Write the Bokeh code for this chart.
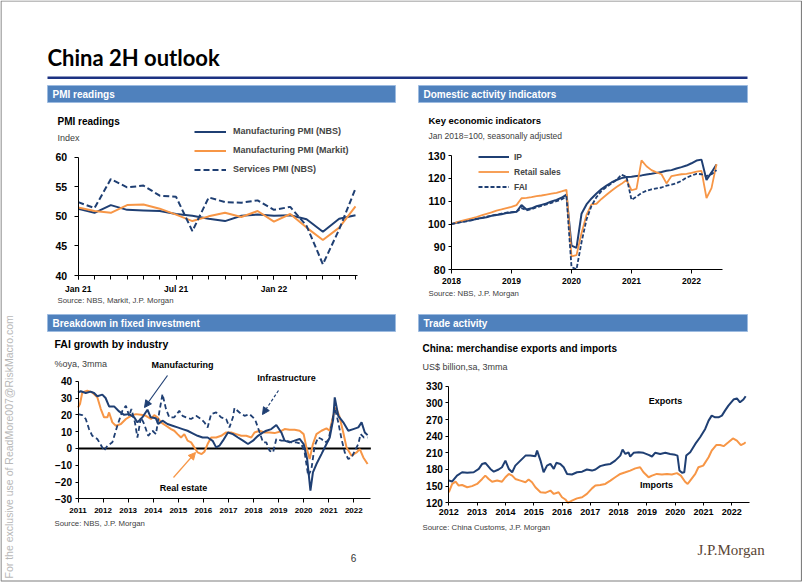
from bokeh.plotting import figure
from bokeh.models import (Range1d, LinearAxis, FixedTicker, Label, Legend, LegendItem,
                          Arrow, NormalHead)
from bokeh.embed import file_html
from bokeh.resources import INLINE

# ------------------------------------------------------------------ data
# Chart 1: PMI readings (monthly, Jan 21 - Jun 22)
pmi_months = ["Jan 21", "Feb 21", "Mar 21", "Apr 21", "May 21", "Jun 21", "Jul 21", "Aug 21",
              "Sep 21", "Oct 21", "Nov 21", "Dec 21", "Jan 22", "Feb 22", "Mar 22", "Apr 22",
              "May 22", "Jun 22"]
pmi_nbs_mfg = [51.3, 50.6, 51.9, 51.1, 51.0, 50.9, 50.4, 50.1, 49.6, 49.2, 50.1, 50.3,
               50.1, 50.2, 49.5, 47.4, 49.6, 50.2]
pmi_markit_mfg = [51.5, 50.9, 50.6, 51.9, 52.0, 51.3, 50.3, 49.2, 50.0, 50.6, 49.9, 50.9,
                  49.1, 50.4, 48.1, 46.0, 48.1, 51.7]
pmi_nbs_services = [52.4, 51.4, 56.3, 54.9, 55.2, 53.5, 53.3, 47.5, 53.2, 52.4, 52.3, 52.7,
                    51.1, 51.6, 48.4, 41.9, 47.8, 54.7]
pmi_tick_labels = {0: "Jan 21", 6: "Jul 21", 12: "Jan 22"}

# Chart 2: key economic indicators (monthly, Jan 2018 - Jun 2022, Jan 2018=100)
act_first_year = 2018
act_ip = [100.0, 100.6, 101.0, 101.4, 101.7, 102.3, 102.7, 103.0, 103.6, 104.0, 104.3, 104.8,
          105.1, 105.4, 108.3, 106.4, 106.9, 107.8, 108.4, 109.0, 109.9, 110.6, 111.5, 112.9,
          90.6, 89.6, 104.5, 108.6, 111.2, 113.4, 115.3, 116.8, 118.2, 119.3, 120.1, 120.6,
          120.7, 121.0, 121.3, 121.7, 122.0, 122.4, 122.8, 123.3, 123.6, 124.3, 124.9, 125.6,
          126.6, 127.8, 128.2, 119.3, 122.6, 126.1]
act_retail = [100.0, 100.7, 101.4, 102.0, 102.5, 103.1, 103.8, 104.5, 105.1, 105.9, 106.4, 107.0,
              107.5, 108.3, 111.3, 111.5, 111.8, 112.2, 112.5, 112.9, 113.3, 113.7, 114.3, 115.0,
              85.9, 86.4, 96.0, 104.0, 108.6, 108.9, 111.0, 112.8, 114.6, 116.2, 117.6, 119.3,
              114.8, 115.4, 127.9, 125.3, 123.6, 122.6, 121.8, 117.8, 121.0, 121.4, 121.8, 122.0,
              122.4, 122.9, 123.3, 111.4, 115.7, 126.2]
act_fai = [100.0, 100.5, 100.9, 101.2, 101.7, 102.2, 102.6, 103.2, 103.7, 104.1, 104.6, 105.0,
           105.2, 105.4, 107.0, 106.0, 106.5, 107.3, 108.0, 108.6, 109.3, 110.0, 110.8, 112.0,
           81.2, 80.2, 92.0, 102.0, 108.0, 111.8, 114.5, 116.2, 117.8, 119.2, 121.6, 120.7,
           110.6, 112.0, 113.6, 114.6, 115.2, 115.6, 116.0, 116.8, 117.3, 117.9, 118.9, 120.3,
           121.2, 122.0, 121.8, 121.0, 121.8, 123.6]
act_years = [2018, 2019, 2020, 2021, 2022]

# Chart 3: FAI growth by industry (%oya, 3mma), dates as decimal years
mfg_t = [2011.00, 2011.11, 2011.31, 2011.50, 2011.64, 2011.77, 2011.97, 2012.10, 2012.24, 2012.44,
         2012.64, 2012.84, 2013.04, 2013.24, 2013.37, 2013.57, 2013.77, 2013.90, 2014.10, 2014.20,
         2014.37, 2014.57, 2014.77, 2014.97, 2015.17, 2015.37, 2015.57, 2015.77, 2015.97, 2016.17,
         2016.37, 2016.51, 2016.64, 2016.78, 2016.98, 2017.18, 2017.38, 2017.58, 2017.78, 2017.98,
         2018.18, 2018.38, 2018.51, 2018.71, 2018.91, 2019.11, 2019.24, 2019.44, 2019.64, 2019.84,
         2020.00, 2020.14, 2020.27, 2020.37, 2020.51, 2020.71, 2020.91, 2021.04, 2021.18, 2021.24,
         2021.38, 2021.58, 2021.78, 2021.98, 2022.18, 2022.31, 2022.44, 2022.55]
mfg_v = [33.3, 34.0, 33.0, 33.8, 33.0, 31.0, 32.0, 30.0, 25.0, 25.0,
         22.0, 20.0, 20.4, 18.5, 15.5, 18.5, 23.0, 18.5, 18.0, 14.5,
         16.5, 14.5, 13.5, 12.5, 11.5, 10.5, 9.0, 7.5, 6.5, 6.5,
         4.5, 0.6, 1.6, 4.6, 9.5, 8.5, 6.5, 4.6, 2.6, 4.6,
         7.5, 9.5, 10.5, 11.5, 13.9, 9.5, 4.6, 3.6, 4.6, 5.6,
         2.6, -6.3, -25.2, -14.3, -9.3, -3.4, 2.6, 6.5, 17.5, 30.4,
         19.4, 15.5, 10.5, 11.5, 12.5, 15.5, 9.5, 7.9]
re_t = [2011.00, 2011.08, 2011.17, 2011.37, 2011.57, 2011.77, 2011.91, 2012.04, 2012.17, 2012.24,
        2012.37, 2012.51, 2012.71, 2012.91, 2013.11, 2013.31, 2013.51, 2013.71, 2013.91, 2014.04,
        2014.17, 2014.31, 2014.51, 2014.71, 2014.84, 2014.97, 2015.11, 2015.24, 2015.37, 2015.51,
        2015.64, 2015.77, 2015.93, 2016.04, 2016.17, 2016.31, 2016.51, 2016.71, 2016.91, 2017.11,
        2017.31, 2017.51, 2017.71, 2017.91, 2018.04, 2018.24, 2018.44, 2018.64, 2018.84, 2019.04,
        2019.24, 2019.44, 2019.64, 2019.84, 2020.00, 2020.11, 2020.24, 2020.37, 2020.51, 2020.71,
        2020.91, 2021.04, 2021.18, 2021.28, 2021.42, 2021.58, 2021.71, 2021.91, 2022.11, 2022.24,
        2022.38, 2022.55]
re_v = [24.4, 26.4, 33.3, 34.3, 33.3, 30.4, 23.4, 18.5, 18.5, 21.4,
        15.5, 13.5, 14.5, 17.5, 19.4, 20.4, 20.0, 19.4, 17.5, 19.8,
        18.5, 15.5, 13.5, 11.5, 10.5, 8.5, 6.5, 8.5, 4.6, 3.6,
        0.6, -2.4, -3.4, -2.0, 2.6, 6.5, 6.5, 7.5, 9.5, 9.5,
        8.5, 7.5, 7.5, 6.5, 9.5, 10.5, 9.5, 9.5, 9.1, 9.9,
        11.5, 11.1, 11.1, 10.5, 8.5, 0.6, -6.3, 2.6, 8.5, 10.5,
        11.9, 10.5, 19.4, 24.4, 19.4, 9.5, 0.6, -4.4, -2.4, -0.4,
        -5.4, -9.3]
infra_t = [2011.00, 2011.17, 2011.31, 2011.44, 2011.57, 2011.77, 2011.93, 2012.04, 2012.17, 2012.37,
           2012.57, 2012.77, 2012.91, 2013.04, 2013.13, 2013.27, 2013.37, 2013.51, 2013.64, 2013.80,
           2013.97, 2014.11, 2014.24, 2014.37, 2014.51, 2014.64, 2014.84, 2015.04, 2015.17, 2015.31,
           2015.51, 2015.71, 2015.91, 2016.04, 2016.17, 2016.31, 2016.51, 2016.71, 2016.91, 2017.04,
           2017.18, 2017.24, 2017.44, 2017.64, 2017.84, 2017.98, 2018.08, 2018.22, 2018.38, 2018.51,
           2018.64, 2018.78, 2018.91, 2019.11, 2019.31, 2019.51, 2019.71, 2019.91, 2020.04, 2020.18,
           2020.31, 2020.44, 2020.58, 2020.71, 2020.84, 2020.98, 2021.11, 2021.24, 2021.38, 2021.51,
           2021.64, 2021.78, 2021.91, 2022.04, 2022.18, 2022.27, 2022.40, 2022.55]
infra_v = [20.4, 19.8, 17.5, 11.5, 7.5, 5.6, 1.6, -1.4, 1.6, 3.6,
           13.5, 22.4, 25.4, 19.4, 23.4, 15.5, 6.5, 18.5, 14.5, 7.5,
           10.5, 8.5, 21.4, 32.3, 23.4, 18.5, 18.5, 22.4, 19.4, 18.5,
           17.5, 19.4, 17.5, 15.5, 12.5, 20.4, 21.4, 18.5, 17.5, 12.5,
           18.5, 24.0, 21.4, 19.4, 20.4, 18.5, 16.5, 10.5, 3.6, 3.6,
           -1.4, -2.4, 5.6, 4.6, 4.6, 3.6, 3.6, 2.6, -2.4, -16.3,
           -12.3, 1.6, 6.5, 5.6, 3.6, 4.6, 13.5, 24.4, 15.5, 5.6,
           -2.4, -6.3, -5.4, -1.4, 2.6, 8.5, 6.5, 6.5]
fai_years = list(range(2011, 2023))

# Chart 4: merchandise exports and imports (US$ bn, sa, 3mma)
exp_t = [2012.00, 2012.12, 2012.29, 2012.47, 2012.65, 2012.88, 2013.06, 2013.18, 2013.29, 2013.47,
         2013.59, 2013.76, 2013.88, 2014.00, 2014.12, 2014.24, 2014.35, 2014.53, 2014.71, 2014.88,
         2015.06, 2015.12, 2015.24, 2015.35, 2015.47, 2015.59, 2015.71, 2015.80, 2015.94, 2016.06,
         2016.18, 2016.35, 2016.53, 2016.71, 2016.88, 2017.06, 2017.18, 2017.35, 2017.53, 2017.71,
         2017.88, 2018.06, 2018.14, 2018.24, 2018.35, 2018.41, 2018.53, 2018.71, 2018.88, 2019.06,
         2019.18, 2019.29, 2019.47, 2019.65, 2019.82, 2020.00, 2020.08, 2020.15, 2020.24, 2020.32,
         2020.39, 2020.53, 2020.71, 2020.88, 2021.06, 2021.18, 2021.29, 2021.41, 2021.53, 2021.65,
         2021.76, 2021.88, 2022.06, 2022.18, 2022.29, 2022.41, 2022.49]
exp_v = [160.2, 158.4, 169.0, 175.0, 174.0, 175.0, 181.0, 190.0, 192.0, 181.0,
         176.0, 180.0, 184.0, 196.0, 181.0, 175.0, 187.0, 196.0, 205.0, 205.0,
         204.0, 214.0, 196.0, 175.0, 187.0, 190.0, 181.0, 192.0, 190.0, 184.0,
         172.0, 171.0, 175.0, 176.0, 180.0, 178.0, 180.0, 186.0, 188.4, 190.0,
         196.0, 205.0, 216.0, 208.0, 211.0, 203.0, 210.0, 211.0, 210.0, 206.4,
         203.4, 210.0, 208.0, 210.0, 208.0, 206.4, 205.0, 178.0, 174.0, 175.0,
         205.0, 211.0, 226.0, 238.0, 253.0, 268.0, 277.0, 274.0, 274.0, 277.0,
         286.0, 295.0, 306.0, 308.0, 301.0, 306.0, 312.0]
imp_t = [2012.00, 2012.12, 2012.24, 2012.35, 2012.47, 2012.65, 2012.82, 2013.00, 2013.18, 2013.29,
         2013.41, 2013.53, 2013.71, 2013.88, 2014.00, 2014.12, 2014.24, 2014.35, 2014.53, 2014.71,
         2014.82, 2014.94, 2015.06, 2015.24, 2015.41, 2015.59, 2015.71, 2015.88, 2016.00, 2016.12,
         2016.21, 2016.35, 2016.53, 2016.71, 2016.88, 2017.06, 2017.18, 2017.35, 2017.53, 2017.71,
         2017.88, 2018.06, 2018.24, 2018.41, 2018.59, 2018.76, 2018.88, 2019.06, 2019.18, 2019.35,
         2019.53, 2019.71, 2019.88, 2020.06, 2020.20, 2020.35, 2020.44, 2020.53, 2020.71, 2020.82,
         2020.99, 2021.18, 2021.29, 2021.45, 2021.59, 2021.71, 2021.88, 2022.04, 2022.18, 2022.32,
         2022.41, 2022.49]
imp_v = [139, 154, 158, 151, 152, 148, 150, 154, 163, 169,
         163, 158, 160, 158, 166, 172, 169, 163, 160, 157,
         162, 157, 148, 139, 138, 142, 136, 139, 130, 126,
         120, 124, 128, 130, 136, 146, 151, 152, 154, 160,
         166, 172, 175, 178, 182, 184, 175, 166, 169, 172,
         171, 172, 171, 173.4, 169, 158, 154, 160, 172, 184,
         187, 202, 214, 224, 224, 222, 229, 236, 232, 224,
         226, 229]
trade_years = list(range(2012, 2023))

# ------------------------------------------------------------------ styles
W, H = 802, 583
NAVY = "#1f3f73"
ORANGE = "#f79646"
BAR = "#4f81bd"
SANS = "'Liberation Sans', Arial, sans-serif"
GREY_TXT = "#404040"

p = figure(width=W, height=H, x_range=Range1d(0, W), y_range=Range1d(H, 0),
           x_axis_type=None, y_axis_type=None, toolbar_location=None,
           output_backend="svg", min_border=0, outline_line_color=None)
p.grid.visible = False


def px_range(v0, p0, v1, p1, lo, hi):
    k = (v1 - v0) / (p1 - p0)
    return Range1d(v0 + (lo - p0) * k, v0 + (hi - p0) * k)


def add_ranges(name, xcal, ycal):
    p.extra_x_ranges[name + "x"] = px_range(*xcal, 0, W)
    p.extra_y_ranges[name + "y"] = px_range(*ycal, H, 0)


def txt(x, y, s, size, bold=False, color="black", font=SANS, align="left", angle=0):
    p.add_layout(Label(x=x, y=y, text=s, text_font=font, text_font_size=f"{size}px",
                       text_font_style="bold" if bold else "normal", text_color=color,
                       text_align=align, text_baseline="middle", angle=angle,
                       angle_units="deg"))


def axis(name, side, loc, bounds, ticks, minor=None, standoff=4, tick_out=4, overrides=None,
         size=10.5):
    ticker = FixedTicker(ticks=ticks, minor_ticks=minor or [])
    ax = LinearAxis(x_range_name=name + "x", y_range_name=name + "y", fixed_location=loc,
                    bounds=bounds, ticker=ticker)
    ax.axis_line_color = "black"
    ax.axis_line_width = 1
    ax.major_tick_line_color = "black"
    ax.major_tick_out = tick_out
    ax.major_tick_in = 0
    if minor:
        ax.minor_tick_line_color = "black"
        ax.minor_tick_out = tick_out
        ax.minor_tick_in = 0
    else:
        ax.minor_tick_line_color = None
    ax.major_label_text_font = SANS
    ax.major_label_text_font_size = f"{size}px"
    ax.major_label_text_font_style = "bold"
    ax.major_label_text_color = "black"
    ax.major_label_standoff = standoff
    if overrides:
        ax.major_label_overrides = overrides
    p.add_layout(ax, side)
    return ax


def legend(items, left, top, row_h, glyph_w, standoff, size):
    n = len(items)
    lg = Legend(items=[LegendItem(label=s, renderers=[r]) for s, r in items],
                location=(left, H - top - n * row_h), glyph_width=glyph_w, glyph_height=row_h,
                label_height=row_h, spacing=0, padding=0, margin=0, label_standoff=standoff,
                border_line_color=None, background_fill_alpha=0, label_text_font=SANS,
                label_text_font_size=f"{size}px", label_text_font_style="bold")
    p.add_layout(lg)


# ------------------------------------------------------------------ page frame
p.quad(left=[0.5], right=[801], top=[0.5], bottom=[580.5], fill_color=None,
       line_color="#7f7f7f", line_width=1.2)
txt(47, 56.5, "China 2H outlook", 22, bold=True, font="Lato")
p.quad(left=[47], right=[747], top=[76], bottom=[78.5], fill_color="#1c3282", line_color=None)
for (l, r, t, b, s) in [(47, 395, 85, 102, "PMI readings"),
                        (418, 747, 85, 102, "Domestic activity indicators"),
                        (47, 395, 314, 331, "Breakdown in fixed investment"),
                        (418, 747, 314, 331, "Trade activity")]:
    p.quad(left=[l], right=[r], top=[t], bottom=[b], fill_color=BAR, line_color="#9dbbe0",
           line_width=1)
    txt(l + 5, (t + b) / 2 + 0.5, s, 10, bold=True, color="white")

txt(8, 578, "For the exclusive use of ReadMore007@RiskMacro.com", 10.5, color="#b8b8b8",
    angle=90)
txt(353, 557, "6", 10, color="#333333", align="center")
txt(697, 549, "J.P.Morgan", 15, color="#5b4636", font="'Liberation Serif', serif")

# ------------------------------------------------------------------ chart 1: PMI
add_ranges("c1", (0, 77.7, 17, 355.0), (60, 156.7, 40, 275.0))
m_idx = list(range(len(pmi_months)))
r1 = p.line(m_idx, pmi_nbs_mfg, x_range_name="c1x", y_range_name="c1y", color=NAVY, line_width=2)
r2 = p.line(m_idx, pmi_markit_mfg, x_range_name="c1x", y_range_name="c1y", color=ORANGE,
            line_width=2)
r3 = p.line(m_idx, pmi_nbs_services, x_range_name="c1x", y_range_name="c1y", color=NAVY,
            line_width=2, line_dash="6 3")
axis("c1", "left", 0, (40, 60), [40, 45, 50, 55, 60], standoff=7)
axis("c1", "below", 40, (0, 17.1), list(pmi_tick_labels.keys()), minor=m_idx, standoff=4,
     overrides=pmi_tick_labels, size=8.5)
txt(57, 120.5, "PMI readings", 10, bold=True)
txt(57, 137.5, "Index", 9, color=GREY_TXT)
txt(57, 300, "Source: NBS, Markit, J.P. Morgan", 7.8, color=GREY_TXT)
legend([("Manufacturing PMI (NBS)", r1), ("Manufacturing PMI (Markit)", r2),
        ("Services PMI (NBS)", r3)], 194, 121.5, 19, 32, 7, 9)

# ------------------------------------------------------------------ chart 2: activity
add_ranges("c2", (2018, 451.0, 2022, 691.0), (130, 155.0, 80, 269.3))
act_t = [act_first_year + i / 12 for i in range(len(act_ip))]
q1 = p.line(act_t, act_ip, x_range_name="c2x", y_range_name="c2y", color=NAVY, line_width=2)
q2 = p.line(act_t, act_retail, x_range_name="c2x", y_range_name="c2y", color=ORANGE,
            line_width=1.8)
q3 = p.line(act_t, act_fai, x_range_name="c2x", y_range_name="c2y", color=NAVY, line_width=1.8,
            line_dash="4 2")
axis("c2", "left", 2018, (80, 130), [80, 90, 100, 110, 120, 130], standoff=3, tick_out=3)
axis("c2", "below", 80, (2018, 2022.52), act_years, standoff=4, size=8.5)
txt(428, 120, "Key economic indicators", 9.5, bold=True)
txt(428, 135.5, "Jan 2018=100, seasonally adjusted", 8.5, color=GREY_TXT)
txt(428, 293, "Source: NBS, J.P. Morgan", 7.8, color=GREY_TXT)
legend([("IP", q1), ("Retail sales", q2), ("FAI", q3)], 478, 149, 15, 31, 5, 8.5)

# ------------------------------------------------------------------ chart 3: FAI by industry
add_ranges("c3", (2011, 77.5, 2022, 353.3), (40, 380.7, -30, 498.3))
p.line([2011, 2022.68], [0, 0], x_range_name="c3x", y_range_name="c3y", color="black",
       line_width=2)
p.line(re_t, re_v, x_range_name="c3x", y_range_name="c3y", color=ORANGE, line_width=2)
p.line(infra_t, infra_v, x_range_name="c3x", y_range_name="c3y", color=NAVY, line_width=1.8,
       line_dash="5 3")
p.line(mfg_t, mfg_v, x_range_name="c3x", y_range_name="c3y", color=NAVY, line_width=2)
axis("c3", "left", 2011, (-30, 40), list(range(-30, 41, 10)), standoff=3, tick_out=3, size=10)
axis("c3", "below", -30, (2011, 2022.68), fai_years, standoff=5, size=8)
txt(54, 343.5, "FAI growth by industry", 10.5, bold=True)
txt(54, 363.5, "%oya, 3mma", 9, color=GREY_TXT)
txt(54, 522.5, "Source: NBS, J.P. Morgan", 7.8, color=GREY_TXT)
txt(182, 364, "Manufacturing", 9, bold=True, align="center")
txt(286, 377, "Infrastructure", 9, bold=True, align="center")
txt(183, 487, "Real estate", 9, bold=True, align="center")
p.add_layout(Arrow(end=NormalHead(size=7, fill_color=NAVY, line_color=NAVY),
                   x_start=167, y_start=375, x_end=144, y_end=407, line_color=NAVY,
                   line_width=1.2))
p.add_layout(Arrow(end=NormalHead(size=7, fill_color=NAVY, line_color=NAVY),
                   x_start=278, y_start=390, x_end=262, y_end=414, line_color=NAVY,
                   line_width=1.2, line_dash="3 2"))
p.add_layout(Arrow(end=NormalHead(size=7, fill_color=ORANGE, line_color=ORANGE),
                   x_start=173, y_start=477, x_end=195, y_end=452, line_color=ORANGE,
                   line_width=1.2))

# ------------------------------------------------------------------ chart 4: trade
add_ranges("c4", (2012, 448.3, 2022, 731.3), (330, 385.7, 120, 502.3))
p.line(imp_t, imp_v, x_range_name="c4x", y_range_name="c4y", color=ORANGE, line_width=2)
p.line(exp_t, exp_v, x_range_name="c4x", y_range_name="c4y", color=NAVY, line_width=2)
axis("c4", "left", 2012, (120, 330), list(range(120, 331, 30)), standoff=3, tick_out=3, size=10)
axis("c4", "below", 120, (2012, 2022.62), trade_years, standoff=3, tick_out=3, size=9)
txt(422, 347.5, "China: merchandise exports and imports", 10, bold=True)
txt(422, 366, "US$ billion,sa, 3mma", 9, color=GREY_TXT)
txt(422, 526.5, "Source: China Customs, J.P. Morgan", 7.8, color=GREY_TXT)
txt(665, 400.5, "Exports", 9, bold=True, align="center")
txt(656, 484, "Imports", 9, bold=True, align="center")

open("out.html", "w").write(file_html(p, INLINE))
